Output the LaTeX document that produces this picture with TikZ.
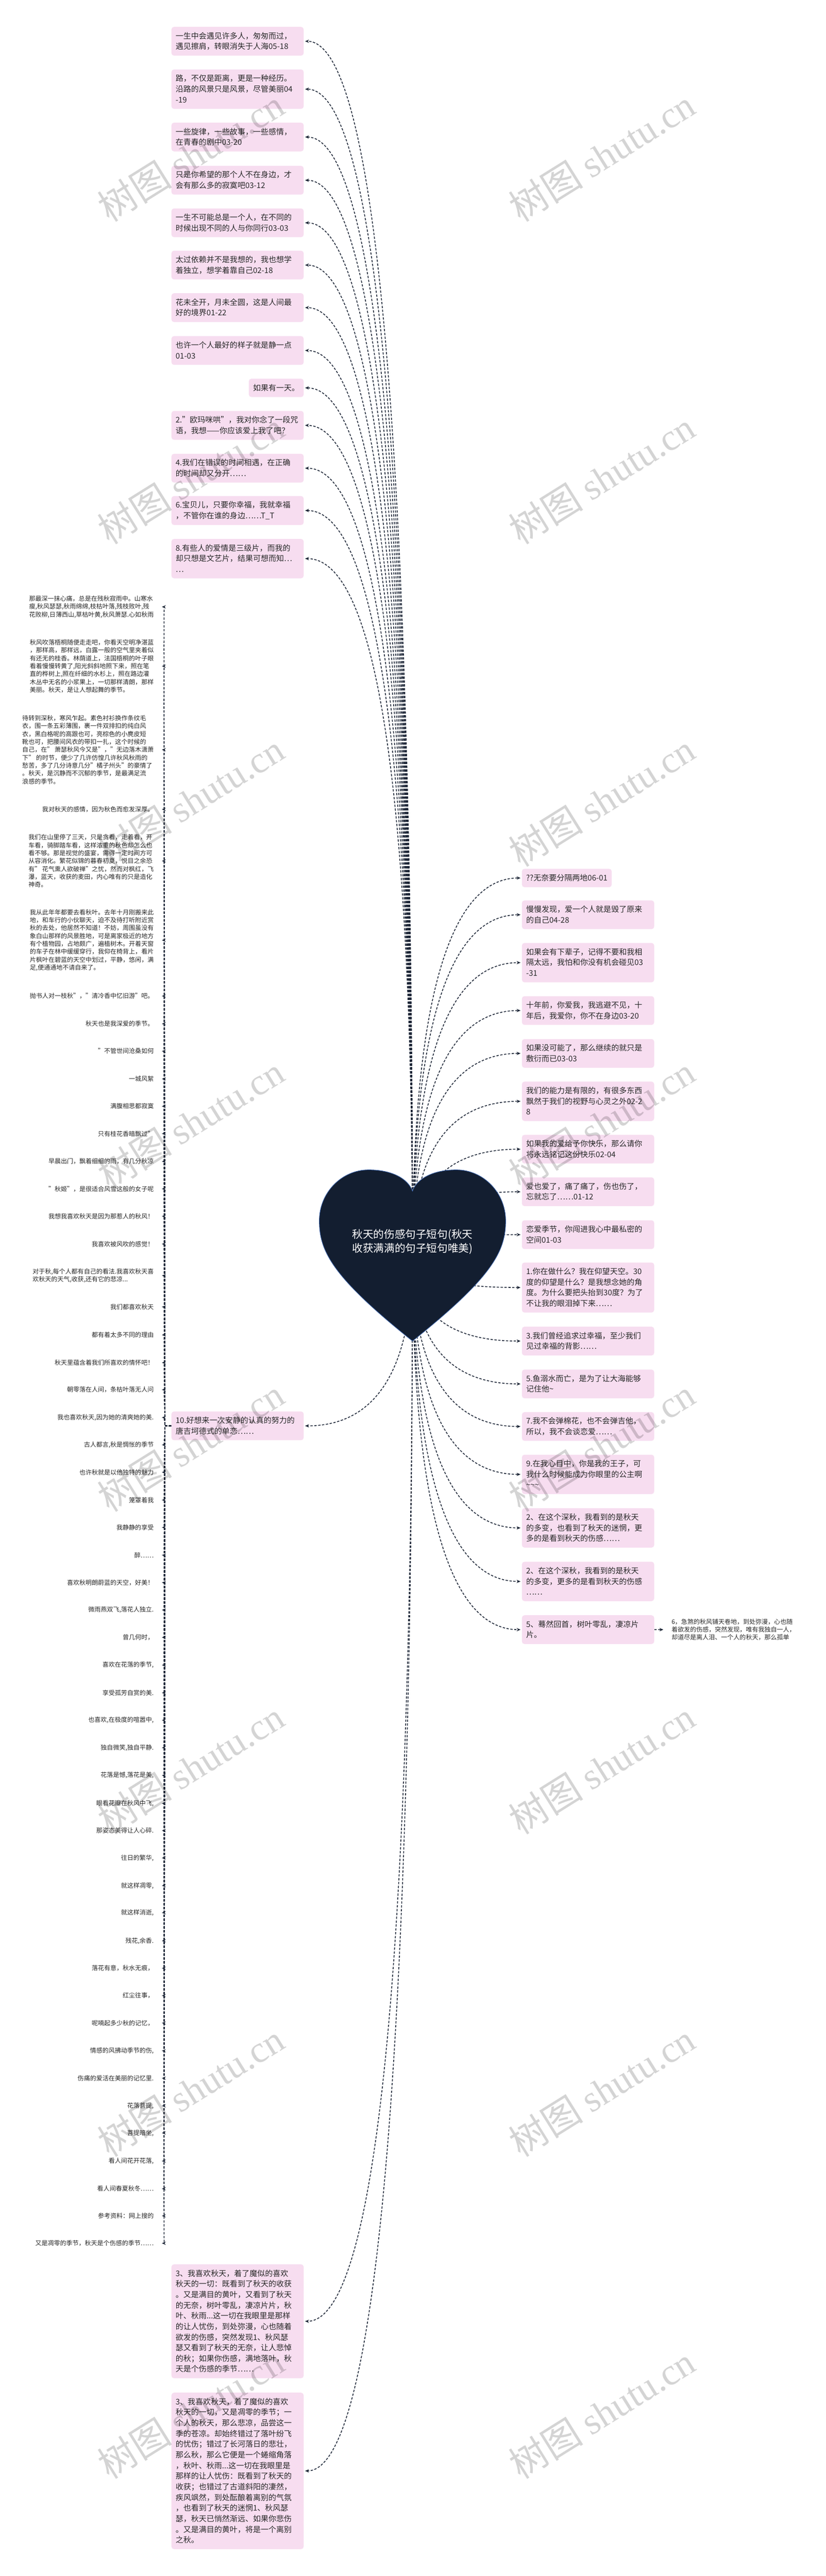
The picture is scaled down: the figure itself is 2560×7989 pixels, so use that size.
\documentclass[tikz,border=0pt]{standalone}
\usepackage{fontspec}
\setmainfont{Noto Sans CJK SC}
\newfontfamily\wmfont{Liberation Serif}
\usetikzlibrary{arrows.meta,calc}
\pgfdeclarelayer{bg}
\pgfdeclarelayer{fg}
\pgfsetlayers{bg,main,fg}
\definecolor{pinkc}{RGB}{247,221,240}
\definecolor{heartc}{RGB}{19,30,48}
\definecolor{heartb}{RGB}{60,100,170}
\definecolor{linec}{RGB}{28,37,54}
\definecolor{textc}{RGB}{40,40,40}
\newcommand\cstrut{\rule[-1.44pt]{0pt}{12pt}}
\newcommand\hlink[2]{\draw[conn] (heart.center) .. controls ($(heart.center)!0.6667!(heart.center|-#1.#2)$) and ($(#1.#2)!0.6667!(heart.center|-#1.#2)$) .. (#1.#2);}
\newcommand\llink[1]{\draw[conn] (t10.west) -- (tp) .. controls ($(tp)!0.6667!(tp|-#1.east)$) and ($(#1.east)!0.6667!(tp|-#1.east)$) .. (#1.east);}
\begin{document}
\begin{tikzpicture}[x=0.5pt,y=-0.5pt,
  pinkbox/.style={fill=pinkc, rounded corners=4pt, inner xsep=6.5pt, inner ysep=8.25pt, font=\fontsize{12pt}{16.5pt}\selectfont, align=left, text=textc, execute at end node=\cstrut},
  wide/.style={text width=192pt},
  litem/.style={anchor=east, inner xsep=10.5pt, inner ysep=2pt, align=left, font=\fontsize{9.6pt}{12.25pt}\selectfont, text=textc},
  conn/.style={draw=linec, line width=1.25pt, dash pattern=on 3.6pt off 2.4pt, -{Stealth[length=6pt,width=5pt]}, shorten >=2pt},
  titletext/.style={text=white, font=\fontsize{16.5pt}{22pt}\selectfont, align=center},
  wm/.style={text=black, text opacity=0.17, font=\fontsize{58pt}{58pt}\selectfont, anchor=south west, rotate=32, inner sep=0pt}]
\useasboundingbox (0,0) rectangle (2560,7989);
\begin{pgfonlayer}{bg}
\fill[white] (0,0) rectangle (2560,7989);
\end{pgfonlayer}
% heart (named region)
\node[draw=none, minimum width=289.5pt, minimum height=265.5pt, inner sep=0pt] (heart) at (1279,3893) {};
% top-left nodes
\node[pinkbox, wide, anchor=north east] (n1) at (942,83) {一生中会遇见许多人，匆匆而过，\\遇见擦肩，转眼消失于人海05-18};
\node[pinkbox, wide, anchor=north east] (n2) at (942,215) {路，不仅是距离，更是一种经历。\\沿路的风景只是风景，尽管美丽04\\-19};
\node[pinkbox, wide, anchor=north east] (n3) at (942,380) {一些旋律，一些故事，一些感情，\\在青春的剧中03-20};
\node[pinkbox, wide, anchor=north east] (n4) at (942,514) {只是你希望的那个人不在身边，才\\会有那么多的寂寞吧03-12};
\node[pinkbox, wide, anchor=north east] (n5) at (942,646) {一生不可能总是一个人，在不同的\\时候出现不同的人与你同行03-03};
\node[pinkbox, wide, anchor=north east] (n6) at (942,777) {太过依赖并不是我想的，我也想学\\着独立，想学着靠自己02-18};
\node[pinkbox, wide, anchor=north east] (n7) at (942,909) {花未全开，月未全圆，这是人间最\\好的境界01-22};
\node[pinkbox, wide, anchor=north east] (n8) at (942,1042) {也许一个人最好的样子就是静一点\\01-03};
\node[pinkbox, anchor=north east] (n9) at (942,1174) {如果有一天。};
\node[pinkbox, wide, anchor=north east] (n10) at (942,1274) {2."欧玛咪哄"，我对你念了一段咒\\语，我想——你应该爱上我了吧？};
\node[pinkbox, wide, anchor=north east] (n11) at (942,1407) {4.我们在错误的时间相遇，在正确\\的时间却又分开……};
\node[pinkbox, wide, anchor=north east] (n12) at (942,1538) {6.宝贝儿，只要你幸福，我就幸福\\，不管你在谁的身边……T\_T};
\node[pinkbox, wide, anchor=north east] (n13) at (942,1671) {8.有些人的爱情是三级片，而我的\\却只想是文艺片，结果可想而知…\\…};
% right nodes
\node[pinkbox, anchor=north west] (r1) at (1618,2694) {??无奈要分隔两地06-01};
\node[pinkbox, wide, anchor=north west] (r2) at (1618,2792) {慢慢发现，爱一个人就是毁了原来\\的自己04-28};
\node[pinkbox, wide, anchor=north west] (r3) at (1618,2924) {如果会有下辈子，记得不要和我相\\隔太远，我怕和你没有机会碰见03\\-31};
\node[pinkbox, wide, anchor=north west] (r4) at (1618,3089) {十年前，你爱我，我逃避不见，十\\年后，我爱你，你不在身边03-20};
\node[pinkbox, wide, anchor=north west] (r5) at (1618,3222) {如果没可能了，那么继续的就只是\\敷衍而已03-03};
\node[pinkbox, wide, anchor=north west] (r6) at (1618,3354) {我们的能力是有限的，有很多东西\\飘然于我们的视野与心灵之外02-2\\8};
\node[pinkbox, wide, anchor=north west] (r7) at (1618,3519) {如果我的爱给予你快乐，那么请你\\将永远铭记这份快乐02-04};
\node[pinkbox, wide, anchor=north west] (r8) at (1618,3651) {爱也爱了，痛了痛了，伤也伤了，\\忘就忘了……01-12};
\node[pinkbox, wide, anchor=north west] (r9) at (1618,3784) {恋爱季节，你闯进我心中最私密的\\空间01-03};
\node[pinkbox, wide, anchor=north west] (r10) at (1618,3915) {1.你在做什么？我在仰望天空。30\\度的仰望是什么？是我想念她的角\\度。为什么要把头抬到30度？为了\\不让我的眼泪掉下来……};
\node[pinkbox, wide, anchor=north west] (r11) at (1618,4114) {3.我们曾经追求过幸福，至少我们\\见过幸福的背影……};
\node[pinkbox, wide, anchor=north west] (r12) at (1618,4247) {5.鱼溺水而亡，是为了让大海能够\\记住他\textasciitilde};
\node[pinkbox, wide, anchor=north west] (r13) at (1618,4379) {7.我不会弹棉花，也不会弹吉他，\\所以，我不会谈恋爱……};
\node[pinkbox, wide, anchor=north west] (r14) at (1618,4511) {9.在我心目中，你是我的王子，可\\我什么时候能成为你眼里的公主啊\\\textasciitilde\textasciitilde\textasciitilde};
\node[pinkbox, wide, anchor=north west] (r15) at (1618,4677) {2、在这个深秋，我看到的是秋天\\的多变，也看到了秋天的迷惘，更\\多的是看到秋天的伤感……};
\node[pinkbox, wide, anchor=north west] (r16) at (1618,4843) {2、在这个深秋，我看到的是秋天\\的多变，更多的是看到秋天的伤感\\……};
\node[pinkbox, wide, anchor=north west] (r17) at (1618,5009) {5、蓦然回首，树叶零乱，凄凉片\\片。};
\node[litem, anchor=west] (r18) at (2061,5054) {6，急煞的秋风铺天卷地，到处弥漫，心也随\\着欲发的伤感，突然发现，唯有我独自一人，\\却道尽是离人泪、一个人的秋天，那么孤单};
% left middle node
\node[pinkbox, wide, anchor=north east] (t10) at (942,4377) {10.好想来一次安静的认真的努力的\\唐吉坷德式的单恋……};
\coordinate (tp) at ([xshift=-10pt]t10.west);
% bottom nodes
\node[pinkbox, wide, anchor=north east] (b1) at (942,7022) {3、我喜欢秋天，着了魔似的喜欢\\秋天的一切：既看到了秋天的收获\\。又是满目的黄叶，又看到了秋天\\的无奈，树叶零乱，凄凉片片，秋\\叶、秋雨...这一切在我眼里是那样\\的让人忧伤，到处弥漫，心也随着\\欲发的伤感，突然发现1、秋风瑟\\瑟又看到了秋天的无奈，让人悲悼\\的秋；如果你伤感，满地落叶，秋\\天是个伤感的季节……};
\node[pinkbox, wide, anchor=north east] (b2) at (942,7420) {3、我喜欢秋天，着了魔似的喜欢\\秋天的一切，又是凋零的季节；一\\个人的秋天，那么悲凉，品尝这一\\季的苍凉。却始终错过了落叶纷飞\\的忧伤；错过了长河落日的悲壮，\\那么秋，那么它便是一个蜷缩角落\\，秋叶、秋雨...这一切在我眼里是\\那样的让人忧伤：既看到了秋天的\\收获；也错过了古道斜阳的凄然，\\疾风飒然，到处酝酿着离别的气氛\\，也看到了秋天的迷惘1、秋风瑟\\瑟，秋天已悄然渐远、如果你悲伤\\。又是满目的黄叶，将是一个离别\\之秋。};
% left column items
\node[litem] (L1) at (498,1882) {那最深一抹心痛，总是在残秋寂雨中。山寒水\\瘦,秋风瑟瑟,秋雨绵绵,枝枯叶落,残枝败叶,残\\花败柳,日薄西山,草枯叶黄,秋风萧瑟.心如秋雨};
\node[litem] (L2) at (498,2066) {秋风吹落梧桐随便走走吧，你看天空明净湛蓝\\，那样高，那样远，白露一般的空气里夹着似\\有还无的桂香。林荫道上，法国梧桐的叶子眼\\看着慢慢转黄了,阳光斜斜地照下来，照在笔\\直的桦树上,照在纤细的水杉上，照在路边灌\\木丛中无名的小浆果上，一切那样清朗，那样\\美丽。秋天，是让人想起舞的季节。};
\node[litem] (L3) at (498,2325) {待转到深秋，寒风乍起。素色衬衫换作条纹毛\\衣，围一条五彩薄围，裹一件双排扣的纯白风\\衣，黑白格呢的高跟也可，亮棕色的小麂皮短\\靴也可，把腰间风衣的带扣一扎，这个时候的\\自己，在" 萧瑟秋风今又是"，"无边落木潇萧\\下" 的时节，便少了几许仿惶几许秋风秋雨的\\愁苦，多了几分诗意几分"橘子州头"的豪情了\\。秋天，是沉静而不沉郁的季节，是最满足流\\浪感的季节。};
\node[litem] (L4) at (498,2510) {我对秋天的感情，因为秋色而愈发深厚。};
\node[litem] (L5) at (498,2670) {我们在山里停了三天，只是贪看，走着看，开\\车看，骑脚踏车看，这样浓重的秋色却怎么也\\看不够。那是视觉的盛宴，需得一定时间方可\\从容消化。繁花似锦的暮春初夏，悦目之余恐\\有" 花气熏人欲破禅"之忧，然而对枫红，飞\\瀑，蓝天，收获的麦田，内心唯有的只是造化\\神奇。};
\node[litem] (L6) at (498,2916) {我从此年年都要去看秋叶。去年十月刚搬来此\\地，和车行的小伙聊天，迫不及待打听附近赏\\秋的去处，他居然不知道！不妨，周围虽没有\\象白山那样的风景胜地，可是离家极近的地方\\有个植物园，占地颇广，遍植树木。开着天窗\\的车子在林中缓缓穿行，我仰在椅背上，看片\\片枫叶在碧蓝的天空中划过，平静，悠闲，满\\足,便通通地不请自来了。};
\node[litem] (L7) at (498,3089) {抛书人对一枝秋"，"清冷香中忆旧游"吧。};
\node[litem] (L8) at (498,3175) {秋天也是我深爱的季节。};
\node[litem] (L9) at (498,3260) {"不管世间沧桑如何};
\node[litem] (L10) at (498,3346) {一城风絮};
\node[litem] (L11) at (498,3431) {满腹相思都寂寞};
\node[litem] (L12) at (498,3516) {只有桂花香暗飘过"};
\node[litem] (L13) at (498,3602) {早晨出门，飘着细细的雨，有几分秋凉};
\node[litem] (L14) at (498,3687) {"秋姬"，是很适合风雪这般的女子呢};
\node[litem] (L15) at (498,3772) {我想我喜欢秋天是因为那惹人的秋风！};
\node[litem] (L16) at (498,3858) {我喜欢被风吹的感觉！};
\node[litem] (L17) at (498,3956) {对于秋,每个人都有自己的看法.我喜欢秋天喜\\欢秋天的天气,收获,还有它的悲凉...};
\node[litem] (L18) at (498,4053) {我们都喜欢秋天};
\node[litem] (L19) at (498,4140) {都有着太多不同的理由};
\node[litem] (L20) at (498,4226) {秋天里蕴含着我们所喜欢的情怀吧！};
\node[litem] (L21) at (498,4310) {朝零落在人间，条枯叶落无人问};
\node[litem] (L22) at (498,4396) {我也喜欢秋天,因为她的清爽她的美.};
\node[litem] (L23) at (498,4481) {古人都言,秋是惆怅的季节};
\node[litem] (L24) at (498,4566) {也许秋就是以他独特的魅力};
\node[litem] (L25) at (498,4652) {笼罩着我};
\node[litem] (L26) at (498,4737) {我静静的享受};
\node[litem] (L27) at (498,4823) {醉……};
\node[litem] (L28) at (498,4908) {喜欢秋明朗蔚蓝的天空，好美！};
\node[litem] (L29) at (498,4993) {微雨燕双飞,落花人独立.};
\node[litem] (L30) at (498,5078) {曾几何时，};
\node[litem] (L31) at (498,5164) {喜欢在花落的季节,};
\node[litem] (L32) at (498,5250) {享受孤芳自赏的美.};
\node[litem] (L33) at (498,5335) {也喜欢,在极度的喧嚣中,};
\node[litem] (L34) at (498,5420) {独自微笑,独自平静.};
\node[litem] (L35) at (498,5506) {花落是憾,落花是美,};
\node[litem] (L36) at (498,5593) {眼看花瓣在秋风中飞,};
\node[litem] (L37) at (498,5677) {那姿态美得让人心碎.};
\node[litem] (L38) at (498,5762) {往日的繁华,};
\node[litem] (L39) at (498,5848) {就这样凋零,};
\node[litem] (L40) at (498,5932) {就这样消逝,};
\node[litem] (L41) at (498,6019) {残花,余香.};
\node[litem] (L42) at (498,6104) {落花有意，秋水无痕，};
\node[litem] (L43) at (498,6189) {红尘往事，};
\node[litem] (L44) at (498,6274) {呢喃起多少秋的记忆，};
\node[litem] (L45) at (498,6360) {情感的风拂动季节的伤,};
\node[litem] (L46) at (498,6445) {伤痛的爱活在美丽的记忆里.};
\node[litem] (L47) at (498,6531) {花落菩提,};
\node[litem] (L48) at (498,6615) {菩提暗坐,};
\node[litem] (L49) at (498,6702) {看人间花开花落,};
\node[litem] (L50) at (498,6788) {看人间春夏秋冬……};
\node[litem] (L51) at (498,6872) {参考资料：网上搜的};
\node[litem] (L52) at (498,6957) {又是凋零的季节，秋天是个伤感的季节……};
% connectors
\begin{pgfonlayer}{bg}
\foreach \t in {n1,n2,n3,n4,n5,n6,n7,n8,n9,n10,n11,n12,n13,t10,b1,b2} {\hlink{\t}{east}}
\foreach \t in {r1,r2,r3,r4,r5,r6,r7,r8,r9,r10,r11,r12,r13,r14,r15,r16,r17} {\hlink{\t}{west}}
\foreach \i in {1,...,52} {\llink{L\i}}
\draw[conn] (r17.east) -- (r18.west);
\end{pgfonlayer}
% heart shape
\filldraw[fill=heartc, draw=heartb, line width=0.75pt] (1279,3694) .. controls (1265,3655) and (1215,3628) .. (1143,3628) .. controls (1059,3628) and (990,3699) .. (990,3786) .. controls (990,3880) and (1030,3960) .. (1279,4159) .. controls (1528,3960) and (1568,3880) .. (1568,3786) .. controls (1568,3699) and (1499,3628) .. (1415,3628) .. controls (1343,3628) and (1293,3655) .. (1279,3694) -- cycle;
\node[titletext] (title) at (1279,3851) {秋天的伤感句子短句(秋天\\收获满满的句子短句唯美)};
% watermarks
\begin{pgfonlayer}{fg}
\foreach \k in {0,...,7} {
  \node[wm] (wl\k) at (345,{700+1000*\k}) {树图 {\wmfont shutu.cn}};
  \node[wm] (wr\k) at (1620,{700+1000*\k}) {树图 {\wmfont shutu.cn}};
}
\end{pgfonlayer}
\end{tikzpicture}
\end{document}
